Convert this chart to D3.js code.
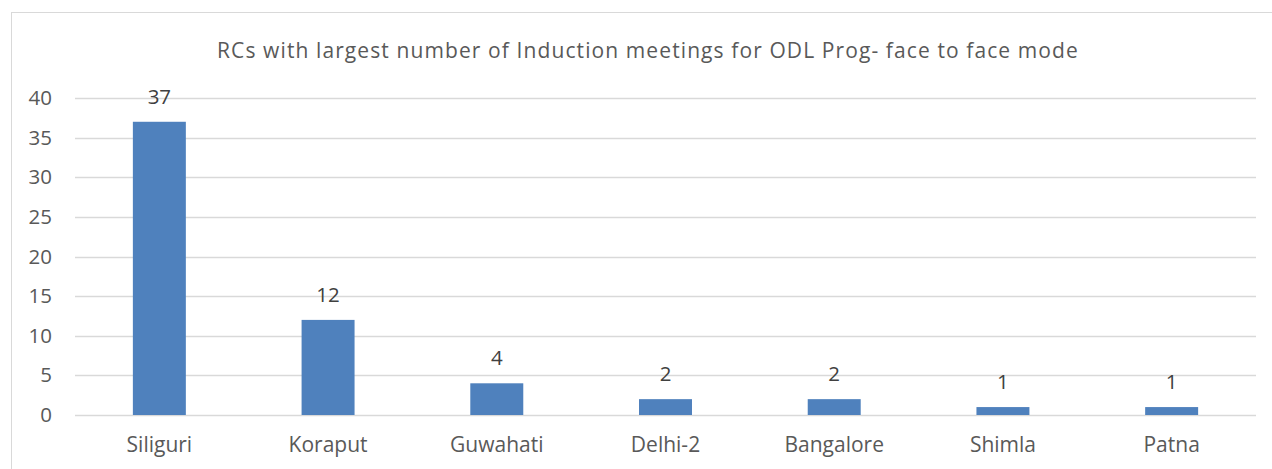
<!DOCTYPE html>
<html>
<head>
<meta charset="utf-8">
<script src="https://d3js.org/d3.v7.min.js"></script>
<style>
  body { margin: 0; background: #fff; }
  svg text { font-family: "Open Sans", Lato, sans-serif; fill: #595959; }
</style>
</head>
<body>
<div id="chart"></div>
<script>
// RCs and their induction meeting counts
var centres = ["Siliguri", "Koraput", "Guwahati", "Delhi-2", "Bangalore", "Shimla", "Patna"];
var meetings = [37, 12, 4, 2, 2, 1, 1];
var yTicks = [0, 5, 10, 15, 20, 25, 30, 35, 40];
var chartTitle = "RCs with largest number of Induction meetings for ODL Prog- face to face mode";

var width = 1272, height = 469;
var margin = {top: 98, right: 16, bottom: 54, left: 75};

var svg = d3.select("#chart").append("svg")
    .attr("width", width)
    .attr("height", height);

// chart frame
svg.append("rect")
    .attr("x", 11.5).attr("y", 12.5)
    .attr("width", width + 20).attr("height", height + 20)
    .attr("fill", "none")
    .attr("stroke", "#d9d9d9");

var xScale = d3.scaleBand()
    .domain(centres)
    .range([margin.left, width - margin.right])
    .paddingInner(0.686)
    .paddingOuter(0.343);

var yScale = d3.scaleLinear()
    .domain([0, 40])
    .range([height - margin.bottom, margin.top]);

// gridlines
svg.append("g")
    .selectAll("line")
    .data(yTicks)
    .enter()
    .append("line")
    .attr("x1", margin.left)
    .attr("x2", width - margin.right)
    .attr("y1", function (d) { return Math.round(yScale(d)) + 0.5; })
    .attr("y2", function (d) { return Math.round(yScale(d)) + 0.5; })
    .attr("stroke", "#d9d9d9")
    .attr("stroke-width", 1.3);

// y axis labels
var yAxis = d3.axisLeft(yScale).tickValues(yTicks).tickSize(0).tickPadding(23);
var gy = svg.append("g")
    .attr("transform", "translate(" + margin.left + ",0)")
    .call(yAxis);
gy.select(".domain").remove();
gy.selectAll("text").style("font-size", "20.5px").attr("fill", "#595959");

// x axis labels
var xAxis = d3.axisBottom(xScale).tickSize(0).tickPadding(22);
var gx = svg.append("g")
    .attr("transform", "translate(0," + (height - margin.bottom) + ")")
    .call(xAxis);
gx.select(".domain").remove();
gx.selectAll("text").style("font-size", "21px").attr("fill", "#595959");

// bars
svg.selectAll("rect.bar")
    .data(meetings)
    .enter()
    .append("rect")
    .attr("class", "bar")
    .attr("x", function (d, i) { return xScale(centres[i]); })
    .attr("y", function (d) { return yScale(d); })
    .attr("width", xScale.bandwidth())
    .attr("height", function (d) { return yScale(0) - yScale(d); })
    .attr("fill", "#4f81bd");

// value labels
svg.selectAll("text.val")
    .data(meetings)
    .enter()
    .append("text")
    .attr("class", "val")
    .attr("x", function (d, i) { return xScale(centres[i]) + xScale.bandwidth() / 2; })
    .attr("y", function (d) { return yScale(d) - 18; })
    .attr("text-anchor", "middle")
    .style("font-size", "20.5px")
    .style("fill", "#404040")
    .text(function (d) { return d; });

// title
svg.append("text")
    .attr("x", 648)
    .attr("y", 58)
    .attr("text-anchor", "middle")
    .style("font-size", "21px")
    .style("letter-spacing", "1.1px")
    .text(chartTitle);
</script>
</body>
</html>
